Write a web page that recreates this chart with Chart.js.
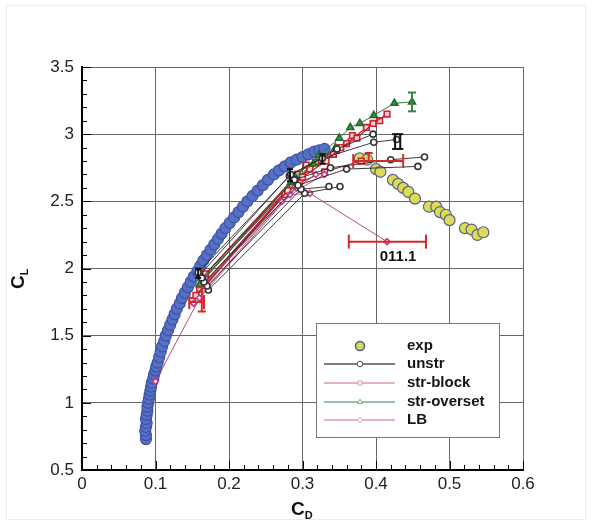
<!DOCTYPE html>
<html>
<head>
<meta charset="utf-8">
<script src="https://cdn.jsdelivr.net/npm/chart.js@4/dist/chart.umd.min.js"></script>
<style>
  body { margin: 0; background: #fff; }
  canvas { display: block; }
</style>
</head>
<body>
<canvas id="polarChart" width="592" height="525"></canvas>
<script>
// axis ticks
const xTicks = [0, 0.1, 0.2, 0.3, 0.4, 0.5, 0.6];
const xTickLabels = ["0", "0.1", "0.2", "0.3", "0.4", "0.5", "0.6"];
const yTicks = [0.5, 1, 1.5, 2, 2.5, 3, 3.5];
const yTickLabels = ["0.5", "1", "1.5", "2", "2.5", "3", "3.5"];

// experiment: CD / CL
const expCD = [0.087, 0.087, 0.086, 0.087, 0.088, 0.087, 0.088, 0.089, 0.089, 0.090,
  0.091, 0.092, 0.093, 0.094, 0.095, 0.097, 0.098, 0.100, 0.101, 0.103,
  0.105, 0.107, 0.109, 0.112, 0.114, 0.117, 0.120, 0.123, 0.126, 0.129,
  0.133, 0.136, 0.140, 0.144, 0.148, 0.152, 0.157, 0.161, 0.165, 0.170,
  0.175, 0.180, 0.185, 0.190, 0.195, 0.201, 0.207, 0.213, 0.219, 0.225,
  0.232, 0.239, 0.246, 0.253, 0.261, 0.268, 0.276, 0.284, 0.292, 0.300,
  0.308, 0.316, 0.323, 0.330,
  0.378, 0.388, 0.400, 0.406, 0.423, 0.430, 0.437, 0.444, 0.453, 0.472,
  0.482, 0.487, 0.495, 0.500, 0.521, 0.530, 0.538, 0.546];
const expCL = [0.73, 0.76, 0.79, 0.82, 0.85, 0.88, 0.91, 0.94, 0.97, 1.00,
  1.03, 1.06, 1.09, 1.12, 1.15, 1.18, 1.21, 1.24, 1.27, 1.30,
  1.34, 1.38, 1.42, 1.46, 1.50, 1.54, 1.58, 1.62, 1.66, 1.70,
  1.74, 1.78, 1.82, 1.86, 1.90, 1.94, 1.98, 2.02, 2.06, 2.10,
  2.14, 2.18, 2.22, 2.26, 2.30, 2.34, 2.38, 2.42, 2.46, 2.50,
  2.54, 2.58, 2.62, 2.66, 2.70, 2.73, 2.76, 2.79, 2.81, 2.83,
  2.85, 2.87, 2.88, 2.89,
  2.82, 2.81, 2.74, 2.72, 2.66, 2.63, 2.60, 2.57, 2.52, 2.46,
  2.46, 2.42, 2.40, 2.36, 2.30, 2.29, 2.25, 2.27];

// unstr runs
const unstrCD = [
  [0.158, 0.284, 0.327, 0.397, 0.428],
  [0.163, 0.289, 0.338, 0.420, 0.466],
  [0.166, 0.294, 0.360, 0.457],
  [0.170, 0.298, 0.336],
  [0.172, 0.303, 0.351],
  [0.160, 0.282, 0.347, 0.396]
];
const unstrCL = [
  [1.97, 2.70, 2.82, 2.94, 2.96],
  [1.93, 2.66, 2.75, 2.81, 2.83],
  [1.90, 2.62, 2.74, 2.76],
  [1.87, 2.59, 2.61],
  [1.84, 2.56, 2.61],
  [1.95, 2.69, 2.89, 3.00]
];

// str-block runs
const strBlockCD = [
  [0.155, 0.280, 0.300, 0.332, 0.352, 0.374, 0.396, 0.415],
  [0.160, 0.286, 0.310, 0.342, 0.360, 0.387, 0.405],
  [0.150, 0.276, 0.296, 0.330, 0.380],
  [0.164, 0.290, 0.318, 0.346, 0.368],
  [0.168, 0.293, 0.305]
];
const strBlockCL = [
  [1.80, 2.58, 2.68, 2.80, 2.90, 2.97, 3.08, 3.15],
  [1.85, 2.62, 2.74, 2.85, 2.93, 3.05, 3.10],
  [1.76, 2.55, 2.64, 2.72, 2.80],
  [1.92, 2.65, 2.79, 2.88, 2.99],
  [1.96, 2.70, 2.77]
];

// str-overset runs
const strOversetCD = [
  [0.165, 0.290, 0.322, 0.350, 0.365, 0.378, 0.397, 0.425, 0.449],
  [0.160, 0.284, 0.315, 0.345]
];
const strOversetCL = [
  [1.92, 2.68, 2.84, 2.97, 3.05, 3.08, 3.14, 3.23, 3.24],
  [1.88, 2.64, 2.78, 2.90]
];

// LB runs
const lbCD = [
  [0.100, 0.160, 0.283, 0.310, 0.415],
  [0.152, 0.272, 0.298, 0.330],
  [0.168, 0.292, 0.318]
];
const lbCL = [
  [1.16, 1.78, 2.55, 2.56, 2.20],
  [1.74, 2.50, 2.60, 2.70],
  [1.89, 2.60, 2.70]
];

// error bars
const redHBarCL = [2.20, 2.80, 1.75];
const redHBarLo = [0.363, 0.369, 0.146];
const redHBarHi = [0.468, 0.437, 0.166];
const redVBarCD = [0.163, 0.390];
const redVBarLo = [1.68, 2.80];
const redVBarHi = [1.86, 2.86];
const blackVBarCD = [0.158, 0.283, 0.327, 0.426, 0.433];
const blackVBarLo = [1.93, 2.65, 2.78, 2.89, 2.89];
const blackVBarHi = [2.00, 2.74, 2.85, 3.00, 3.00];
const greenVBarCD = [0.449];
const greenVBarLo = [3.17];
const greenVBarHi = [3.31];

// text note
const noteCD = [0.43];
const noteCL = [2.085];
const noteText = ["011.1"];

const legendNames = ["exp", "unstr", "str-block", "str-overset", "LB"];

const FONT = "'Liberation Sans', Arial, Helvetica, sans-serif";

const styles = {
  "unstr": { color: "#262626", pointStyle: "circle", radius: 3, fill: "#fff", edge: "#333", lineWidth: 0.9, legend: "#555" },
  "str-block": { color: "#a8202e", pointStyle: "rect", radius: 4, fill: "#f6d4d6", edge: "#d41f2e", lineWidth: 1.2, legend: "#e09aa2" },
  "str-overset": { color: "#2c7a38", pointStyle: "triangle", radius: 4, fill: "#3b9a48", edge: "#1f6a2b", lineWidth: 1, legend: "#7fa884" },
  "LB": { color: "#a83d72", pointStyle: "rectRot", radius: 3, fill: "#fff", edge: "#c03c85", lineWidth: 0.9, legend: "#d497bd" }
};

function toPoints(cds, cls) {
  return cds.map((x, i) => ({ x: x, y: cls[i] }));
}

const datasets = [];

// experimental points sit beneath the computations
datasets.push({
  label: "exp",
  data: toPoints(expCD, expCL),
  showLine: false,
  order: 5,
  pointRadius: 5.5,
  pointBorderWidth: 1.2,
  pointBackgroundColor: ctx => (ctx.raw && ctx.raw.x < 0.34) ? "#5670c4" : "#dcdc55",
  pointBorderColor: ctx => (ctx.raw && ctx.raw.x < 0.34) ? "#3d52a8" : "#56608a"
});

function addRuns(name, cds, cls) {
  const s = styles[name];
  cds.forEach((cd, i) => {
    datasets.push({
      label: name,
      data: toPoints(cd, cls[i]),
      showLine: true,
      order: 1,
      borderColor: s.color,
      borderWidth: s.lineWidth,
      pointStyle: s.pointStyle,
      pointRadius: s.radius,
      pointBackgroundColor: s.fill,
      pointBorderColor: s.edge,
      pointBorderWidth: 1.6
    });
  });
}
addRuns("unstr", unstrCD, unstrCL);
addRuns("LB", lbCD, lbCL);
addRuns("str-overset", strOversetCD, strOversetCL);
addRuns("str-block", strBlockCD, strBlockCL);

function addBars(horizontal, pos, lo, hi, color, cap) {
  pos.forEach((p, i) => {
    const data = horizontal
      ? [{ x: lo[i], y: p }, { x: hi[i], y: p }]
      : [{ x: p, y: lo[i] }, { x: p, y: hi[i] }];
    datasets.push({
      label: "bar",
      data: data,
      showLine: true,
      order: 0,
      borderColor: color,
      borderWidth: 2,
      pointStyle: "line",
      rotation: horizontal ? 90 : 0,
      pointRadius: cap,
      pointBorderColor: color,
      pointBorderWidth: 2
    });
  });
}
addBars(true, redHBarCL, redHBarLo, redHBarHi, "#d42a2a", 7);
addBars(false, redVBarCD, redVBarLo, redVBarHi, "#d42a2a", 4);
addBars(false, blackVBarCD, blackVBarLo, blackVBarHi, "#111", 3);
addBars(false, greenVBarCD, greenVBarLo, greenVBarHi, "#2f8a3d", 4);

// ticks, note, legend, axis titles
const decorations = {
  id: "decorations",
  beforeDraw(chart) {
    const c = chart.ctx;
    c.save();
    c.strokeStyle = "#ececec";
    c.lineWidth = 1;
    c.strokeRect(6.5, 5.5, 579, 514);
    c.restore();
  },
  afterDatasetsDraw(chart) {
    const c = chart.ctx;
    const xs = chart.scales.x, ys = chart.scales.y;
    const area = chart.chartArea;
    c.save();

    // inward ticks
    c.strokeStyle = "#000";
    c.lineWidth = 1;
    c.beginPath();
    for (let k = 0; k <= 30; k++) {
      const px = Math.round(xs.getPixelForValue(k * 0.02)) + 0.5;
      const len = k % 5 === 0 ? 9 : 5;
      c.moveTo(px, area.bottom);
      c.lineTo(px, area.bottom - len);
    }
    for (let k = 0; k <= 30; k++) {
      const py = Math.round(ys.getPixelForValue(0.5 + k * 0.1)) + 0.5;
      const len = k % 5 === 0 ? 9 : 5;
      c.moveTo(area.left, py);
      c.lineTo(area.left + len, py);
    }
    c.stroke();

    // note under the error bar
    c.fillStyle = "#111";
    c.font = "bold 15px " + FONT;
    c.textAlign = "center";
    c.textBaseline = "middle";
    noteText.forEach((t, i) => {
      c.fillText(t, xs.getPixelForValue(noteCD[i]), ys.getPixelForValue(noteCL[i]));
    });

    // legend box
    const bx = 316, by = 323, bw = 183, bh = 114;
    c.fillStyle = "#fff";
    c.fillRect(bx, by, bw, bh);
    c.strokeStyle = "#777";
    c.lineWidth = 1;
    c.strokeRect(bx + 0.5, by + 0.5, bw, bh);
    const rowY = [346, 364, 383, 402, 420];
    legendNames.forEach((name, i) => {
      const y = rowY[i];
      if (name === "exp") {
        c.fillStyle = "#d6db5a";
        c.strokeStyle = "#4d5a88";
        c.lineWidth = 1.5;
        c.beginPath();
        c.arc(360, y, 4.5, 0, Math.PI * 2);
        c.fill();
        c.stroke();
      } else {
        const s = styles[name];
        c.strokeStyle = s.legend;
        c.lineWidth = 1.5;
        c.beginPath();
        c.moveTo(324, y);
        c.lineTo(395, y);
        c.stroke();
        c.fillStyle = "#fff";
        c.strokeStyle = s.legend;
        c.lineWidth = 1;
        Chart.helpers.drawPoint(c, { pointStyle: s.pointStyle, radius: 2.8, rotation: 0, borderWidth: 1 }, 360, y);
      }
      c.fillStyle = "#151515";
      c.font = "bold 15px " + FONT;
      c.textAlign = "left";
      c.textBaseline = "middle";
      c.fillText(name, 407, y);
    });

    // axis titles with subscripts
    c.fillStyle = "#111";
    c.textAlign = "left";
    c.textBaseline = "alphabetic";
    c.font = "bold 19px " + FONT;
    c.fillText("C", 291, 515);
    const wC = c.measureText("C").width;
    c.font = "bold 11px " + FONT;
    c.fillText("D", 291 + wC, 519);

    c.translate(24, 289);
    c.rotate(-Math.PI / 2);
    c.font = "bold 19px " + FONT;
    c.fillText("C", 0, 0);
    c.font = "bold 11px " + FONT;
    c.fillText("L", wC, 4);
    c.restore();
  }
};

new Chart(document.getElementById("polarChart"), {
  type: "scatter",
  data: { datasets: datasets },
  options: {
    responsive: false,
    animation: false,
    layout: { padding: { top: 67, right: 69, left: 0, bottom: 0 } },
    plugins: {
      legend: { display: false },
      tooltip: { enabled: false }
    },
    scales: {
      x: {
        type: "linear",
        min: 0,
        max: 0.6,
        afterBuildTicks: s => { s.ticks = xTicks.map(v => ({ value: v })); },
        afterFit: s => { s.height = 55; },
        ticks: {
          callback: v => xTickLabels[xTicks.indexOf(v)],
          color: "#222",
          font: { family: FONT, size: 17 },
          padding: 4,
          maxRotation: 0,
          autoSkip: false
        },
        grid: { color: "#666", lineWidth: 1, drawTicks: false },
        border: { color: "#000", width: 2 }
      },
      y: {
        type: "linear",
        min: 0.5,
        max: 3.5,
        afterBuildTicks: s => { s.ticks = yTicks.map(v => ({ value: v })); },
        afterFit: s => { s.width = 82; },
        ticks: {
          callback: v => yTickLabels[yTicks.indexOf(v)],
          color: "#222",
          font: { family: FONT, size: 17 },
          padding: 8,
          autoSkip: false
        },
        grid: { color: "#666", lineWidth: 1, drawTicks: false },
        border: { color: "#000", width: 2 }
      }
    }
  },
  plugins: [decorations]
});
</script>
</body>
</html>
